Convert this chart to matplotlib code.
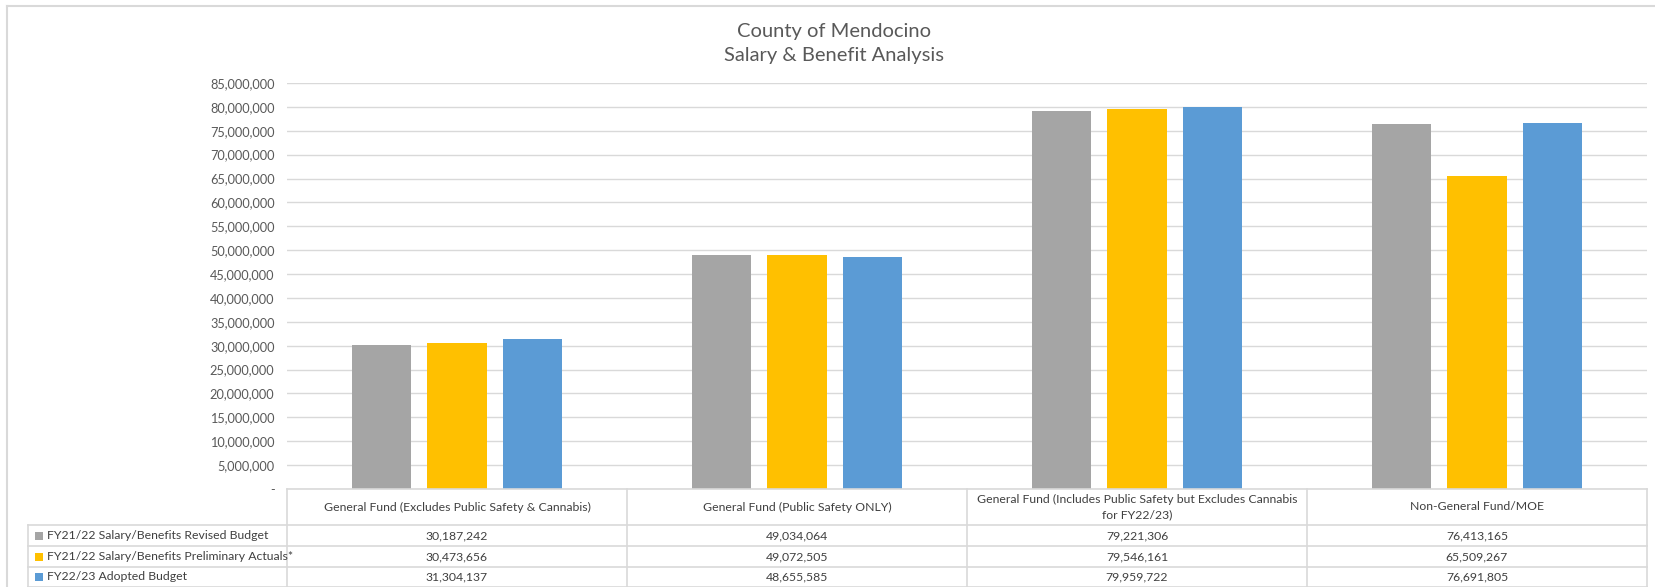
import matplotlib
matplotlib.use("Agg")
import matplotlib.pyplot as plt
from matplotlib.ticker import FuncFormatter
import numpy as np

plt.rcParams['font.family'] = ['Lato', 'DejaVu Sans']

categories = [
    "General Fund (Excludes Public Safety & Cannabis)",
    "General Fund (Public Safety ONLY)",
    "General Fund (Includes Public Safety but Excludes Cannabis\nfor FY22/23)",
    "Non-General Fund/MOE",
]
series_names = [
    "FY21/22 Salary/Benefits Revised Budget",
    "FY21/22 Salary/Benefits Preliminary Actuals*",
    "FY22/23 Adopted Budget",
]
revised_budget = [30187242, 49034064, 79221306, 76413165]
prelim_actuals = [30473656, 49072505, 79546161, 65509267]
adopted_budget = [31304137, 48655585, 79959722, 76691805]
series_values = [revised_budget, prelim_actuals, adopted_budget]
colors = ["#A5A5A5", "#FFC000", "#5B9BD5"]

W, H = 1656, 587
fig = plt.figure(figsize=(W / 100, H / 100), dpi=100)
fig.patch.set_facecolor("white")

# plot area in pixels
L, R, T, B = 287, 1647, 83, 489
ax = fig.add_axes([L / W, 1 - B / H, (R - L) / W, (B - T) / H])
x = np.arange(len(categories))
bw = 0.174
step = 0.222
for i, (vals, c) in enumerate(zip(series_values, colors)):
    ax.bar(x + (i - 1) * step, vals, width=bw, color=c, zorder=3, linewidth=0)

ax.set_xlim(-0.5, len(categories) - 0.5)
ax.set_ylim(0, 85000000)
ax.set_yticks(np.arange(0, 85000001, 5000000))
ax.yaxis.set_major_formatter(FuncFormatter(lambda v, p: "-" if v == 0 else f"{int(v):,}"))
ax.tick_params(axis='y', length=0, pad=9, labelsize=9.2, labelcolor="#595959")
ax.set_xticks([])
for s in ax.spines.values():
    s.set_visible(False)
ax.grid(axis='y', color="#D9D9D9", linewidth=1.0, zorder=0)

# overlay axes in pixel coordinates for title, border and data table
tax = fig.add_axes([0, 0, 1, 1], facecolor="none")
tax.set_xlim(0, W)
tax.set_ylim(H, 0)
tax.axis("off")

lc = "#D9D9D9"
# chart border
tax.plot([7, W], [6, 6], color=lc, lw=1.5)
tax.plot([7, 7], [6, H], color=lc, lw=1.5)

# title
tax.text(834, 31, "County of Mendocino", ha="center", va="center", fontsize=14.5, color="#595959")
tax.text(834, 55, "Salary & Benefit Analysis", ha="center", va="center", fontsize=14.5, color="#595959")

# table
ncol = len(categories)
colw = (R - L) / ncol
col_edges = [L + k * colw for k in range(ncol + 1)]
header_top, header_bot = 489, 525
row_edges = [525, 546, 567, 586.5]
label_left = 28
tc = "#404040"

# horizontal lines
tax.plot([L, R], [header_top, header_top], color=lc, lw=1.2)
for y in row_edges:
    tax.plot([label_left, R], [y, y], color=lc, lw=1.2)
# vertical lines
for xe in col_edges:
    tax.plot([xe, xe], [header_top, row_edges[-1]], color=lc, lw=1.2)
tax.plot([label_left, label_left], [row_edges[0], row_edges[-1]], color=lc, lw=1.2)

for k, cat in enumerate(categories):
    cx = (col_edges[k] + col_edges[k + 1]) / 2
    tax.text(cx, (header_top + header_bot) / 2, cat, ha="center", va="center",
             fontsize=8.8, color=tc, linespacing=1.5)

for r, (name, vals, c) in enumerate(zip(series_names, series_values, colors)):
    cy = (row_edges[r] + row_edges[r + 1]) / 2
    tax.add_patch(plt.Rectangle((35, cy - 4), 8, 8, color=c, lw=0))
    tax.text(47, cy, name, ha="left", va="center", fontsize=8.8, color=tc)
    for k, v in enumerate(vals):
        cx = (col_edges[k] + col_edges[k + 1]) / 2
        tax.text(cx, cy, f"{v:,}", ha="center", va="center", fontsize=8.8, color=tc)

fig.savefig("out.png", dpi=100, facecolor="white")
